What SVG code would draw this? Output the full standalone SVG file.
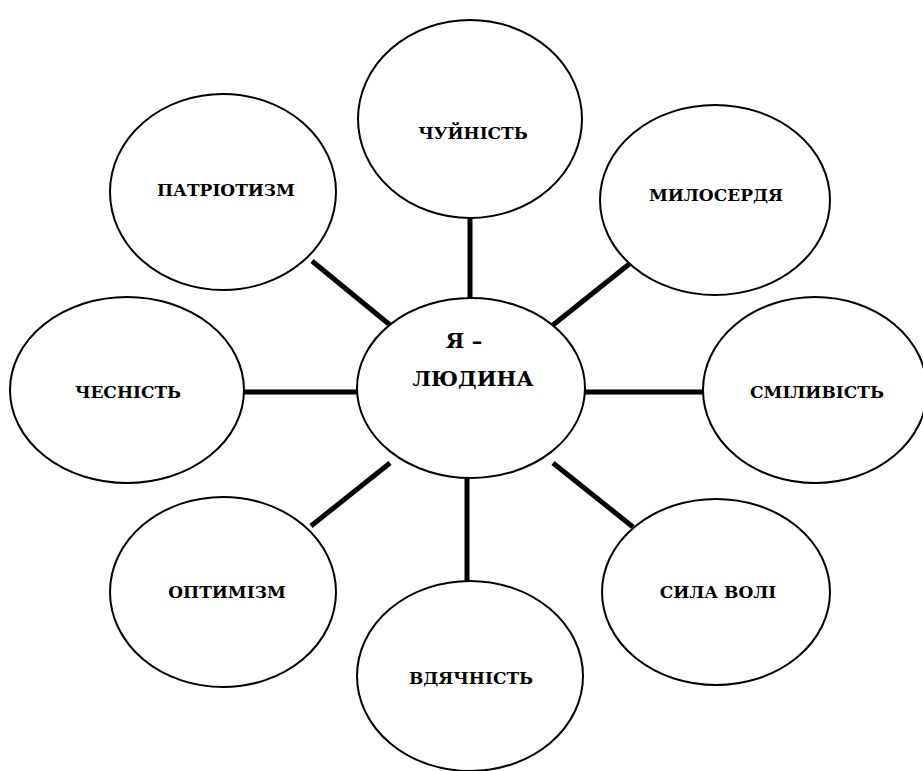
<svg xmlns="http://www.w3.org/2000/svg" width="923" height="771" viewBox="0 0 923 771">
<style>
.n{fill:#fff;stroke:#000;stroke-width:2}
text{font-family:'DejaVu Serif',serif;font-weight:700;font-size:17px;text-anchor:middle;fill:#000}
text.c{font-size:21px}
.l{stroke:#000;stroke-width:5;fill:none}
</style>
<rect width="923" height="771" fill="#fff"/>
<g id="connectors">
<line class="l" x1="470" y1="218" x2="470" y2="299"/>
<line class="l" x1="633" y1="261" x2="553" y2="325"/>
<line class="l" x1="312" y1="261" x2="390" y2="325"/>
<line class="l" x1="243" y1="392" x2="358" y2="392"/>
<line class="l" x1="584" y1="392" x2="704" y2="392"/>
<line class="l" x1="390" y1="463" x2="311" y2="526"/>
<line class="l" x1="553" y1="463" x2="633" y2="527"/>
<line class="l" x1="467" y1="477" x2="467" y2="582"/>
</g>
<g id="center"><ellipse class="n" cx="471" cy="388" rx="114" ry="90"/><text class="c" x="464" y="348">Я –</text><text class="c" x="473" y="386">ЛЮДИНА</text></g>
<g id="chuinist"><ellipse class="n" cx="470" cy="119" rx="112" ry="99"/><text x="473" y="139">ЧУЙНІСТЬ</text></g>
<g id="myloserdia"><ellipse class="n" cx="715" cy="200" rx="115" ry="95"/><text x="716" y="201">МИЛОСЕРДЯ</text></g>
<g id="patriotyzm"><ellipse class="n" cx="223" cy="192" rx="113" ry="98"/><text x="226" y="196">ПАТРІОТИЗМ</text></g>
<g id="chesnist"><ellipse class="n" cx="127" cy="390" rx="117" ry="93"/><text x="128" y="398">ЧЕСНІСТЬ</text></g>
<g id="smilyvist"><ellipse class="n" cx="815" cy="390" rx="112" ry="93"/><text x="817" y="398">СМІЛИВІСТЬ</text></g>
<g id="optymizm"><ellipse class="n" cx="223" cy="592" rx="113" ry="95"/><text x="227" y="598">ОПТИМІЗМ</text></g>
<g id="syla-voli"><ellipse class="n" cx="716" cy="592" rx="114" ry="93"/><text x="718" y="598">СИЛА ВОЛІ</text></g>
<g id="vdiachnist"><ellipse class="n" cx="470" cy="676" rx="113" ry="95"/><text x="471" y="684">ВДЯЧНІСТЬ</text></g>
</svg>
